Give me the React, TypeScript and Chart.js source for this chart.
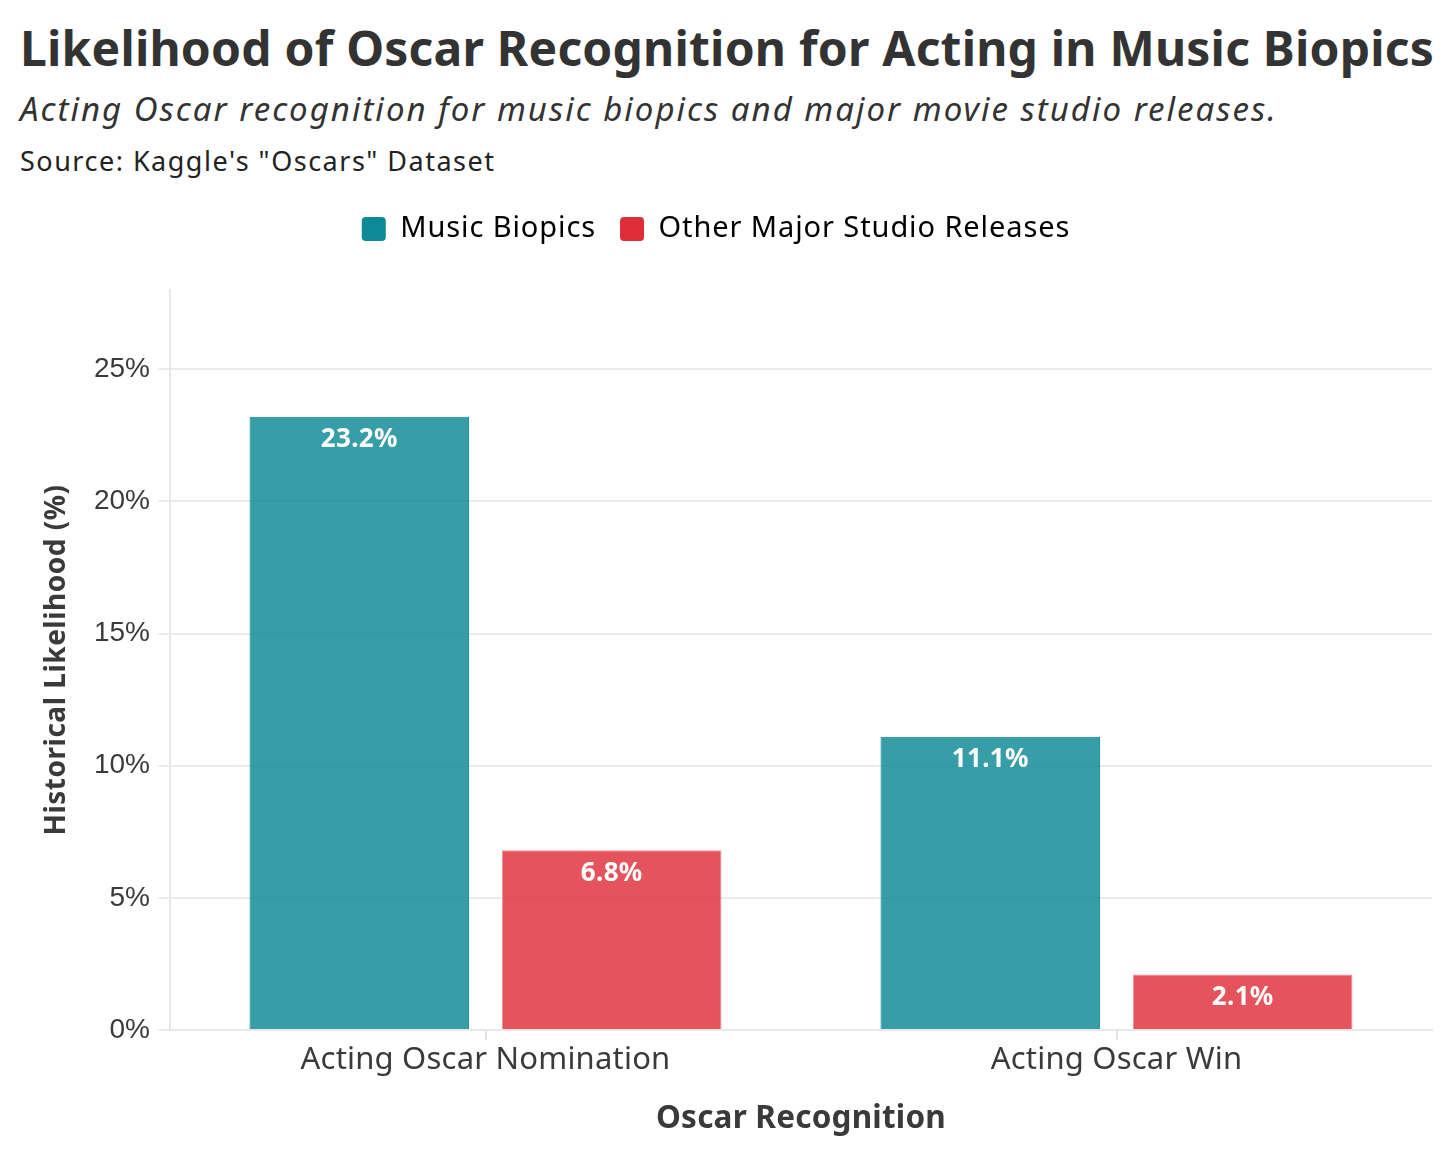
import React, { useEffect, useRef } from "react";
import { Chart, registerables } from "chart.js";

Chart.register(...registerables);

const categories = ["Acting Oscar Nomination", "Acting Oscar Win"];
const seriesNames = ["Music Biopics", "Other Major Studio Releases"];
const musicBiopics = [23.2, 11.1];
const otherReleases = [6.8, 2.1];
const yTicks = [0, 5, 10, 15, 20, 25];

const TEAL = "rgb(14,138,150)";
const TEAL_FILL = "rgba(14,138,150,0.83)";
const RED = "rgb(223,46,56)";
const RED_FILL = "rgba(223,46,56,0.82)";
const FONT = "'Noto Sans', sans-serif";

function withSpacing(obj: any, method: string, spacing: string) {
  const flag = "$sp_" + method;
  if (!obj || obj[flag]) return;
  obj[flag] = true;
  const orig = obj[method];
  obj[method] = function (...args: any[]) {
    const ctx = this.ctx;
    const prev = ctx.letterSpacing;
    ctx.letterSpacing = spacing;
    try {
      return orig.apply(this, args);
    } finally {
      ctx.letterSpacing = prev;
    }
  };
}

const spacingPlugin = {
  id: "spacingPlugin",
  beforeLayout(chart: any) {
    const legend = chart.legend;
    if (legend && !legend.$extra) {
      legend.$extra = true;
      const fit = legend.fit;
      legend.fit = function (...args: any[]) {
        const r = fit.apply(this, args);
        this.height += 36.5;
        return r;
      };
    }
    withSpacing(legend, "fit", "0.9px");
    withSpacing(legend, "draw", "0.9px");
    withSpacing(chart.scales.x, "drawLabels", "0.2px");
    withSpacing(chart.scales.x, "drawTitle", "0.2px");
    withSpacing(chart.scales.y, "drawTitle", "0.5px");
  },
};

const valueLabels = {
  id: "valueLabels",
  afterDatasetsDraw(chart: any) {
    const ctx = chart.ctx;
    ctx.save();
    ctx.fillStyle = "#ffffff";
    ctx.font = `bold 26px ${FONT}`;
    ctx.letterSpacing = "0.3px";
    ctx.textAlign = "center";
    ctx.textBaseline = "alphabetic";
    chart.data.datasets.forEach((ds: any, di: number) => {
      const meta = chart.getDatasetMeta(di);
      meta.data.forEach((el: any, i: number) => {
        ctx.fillText(ds.data[i].toFixed(1) + "%", el.x, el.y + 30.5);
      });
    });
    ctx.restore();
  },
};

function ChartCanvas() {
  const ref = useRef<HTMLCanvasElement | null>(null);
  useEffect(() => {
    if (!ref.current) return;
    const chart = new Chart(ref.current, {
      type: "bar",
      data: {
        labels: categories,
        datasets: [
          {
            label: seriesNames[0],
            data: musicBiopics,
            backgroundColor: TEAL_FILL,
            borderColor: TEAL,
            borderWidth: 1,
          },
          {
            label: seriesNames[1],
            data: otherReleases,
            backgroundColor: RED_FILL,
            borderColor: "rgba(223,46,56,0.5)",
            borderWidth: 1,
          },
        ],
      },
      options: {
        responsive: false,
        animation: false,
        devicePixelRatio: 1,
        layout: { padding: { left: 0, right: 24, top: 10.5, bottom: 0 } },
        datasets: {
          bar: { categoryPercentage: 0.8, barPercentage: 0.87 },
        },
        plugins: {
          tooltip: { enabled: false },
          legend: {
            display: true,
            position: "top",
            labels: {
              boxWidth: 24,
              boxHeight: 24,
              useBorderRadius: true,
              borderRadius: 4,
              padding: 24,
              color: "#222",
              font: { family: FONT, size: 29 },
              generateLabels: (chart: any) =>
                chart.data.datasets.map((ds: any, i: number) => ({
                  text: ds.label,
                  fillStyle: i === 0 ? TEAL : RED,
                  strokeStyle: i === 0 ? TEAL : RED,
                  lineWidth: 0,
                  borderRadius: 4,
                  datasetIndex: i,
                  hidden: false,
                })),
            },
          },
        },
        scales: {
          x: {
            afterFit: (s: any) => {
              s.height = 142;
            },
            grid: {
              offset: false,
              drawOnChartArea: false,
              drawTicks: true,
              tickLength: 10,
              color: "#e4e4e4",
              lineWidth: 2,
            },
            border: { display: true, color: "#e8e8e8", width: 2 },
            ticks: {
              color: "#3a3a3a",
              font: { family: FONT, size: 31 },
              padding: 2,
            },
            title: {
              display: true,
              text: "Oscar Recognition",
              color: "#3a3a3a",
              font: { family: FONT, size: 31.5, weight: "bold" },
              padding: { top: 0, bottom: 34 },
            },
          },
          y: {
            min: 0,
            max: 28,
            afterFit: (s: any) => {
              s.width = 170;
            },
            afterBuildTicks: (s: any) => {
              s.ticks = yTicks.map((v) => ({ value: v }));
            },
            grid: {
              color: "#ebebeb",
              lineWidth: 2,
              tickLength: 12,
            },
            border: { display: true, color: "#e8e8e8", width: 2 },
            ticks: {
              color: "#3a3a3a",
              font: { family: "'Liberation Sans', sans-serif", size: 28 },
              padding: 8,
              callback: (v: any) => v + "%",
            },
            title: {
              display: true,
              text: "Historical Likelihood (%)",
              color: "#3a3a3a",
              font: { family: FONT, size: 28, weight: "bold" },
              padding: { top: 40, bottom: 0 },
            },
          },
        },
      },
      plugins: [spacingPlugin, valueLabels],
    });
    return () => chart.destroy();
  }, []);
  return (
    <canvas
      ref={ref}
      width={1456}
      height={992}
      style={{ position: "absolute", left: 0, top: 180, width: 1456, height: 992 }}
    />
  );
}

export default function App() {
  return (
    <div
      style={{
        position: "absolute",
        left: 0,
        top: 0,
        width: 1456,
        height: 1172,
        overflow: "hidden",
        background: "#fff",
        fontFamily: FONT,
      }}
    >
      <div
        style={{
          position: "absolute",
          left: 20,
          top: 18,
          fontSize: 48,
          fontWeight: 700,
          color: "#333",
          whiteSpace: "nowrap",
          lineHeight: "60px",
          letterSpacing: "0.2px",
        }}
      >
        Likelihood of Oscar Recognition for Acting in Music Biopics
      </div>
      <div
        style={{
          position: "absolute",
          left: 20,
          top: 87,
          fontSize: 33,
          fontStyle: "italic",
          color: "#333",
          whiteSpace: "nowrap",
          lineHeight: "44px",
          letterSpacing: "2px",
        }}
      >
        Acting Oscar recognition for music biopics and major movie studio releases.
      </div>
      <div
        style={{
          position: "absolute",
          left: 20,
          top: 142.5,
          fontSize: 27,
          color: "#222",
          whiteSpace: "nowrap",
          lineHeight: "36px",
          letterSpacing: "1.5px",
        }}
      >
        Source: Kaggle's "Oscars" Dataset
      </div>
      <ChartCanvas />
    </div>
  );
}
